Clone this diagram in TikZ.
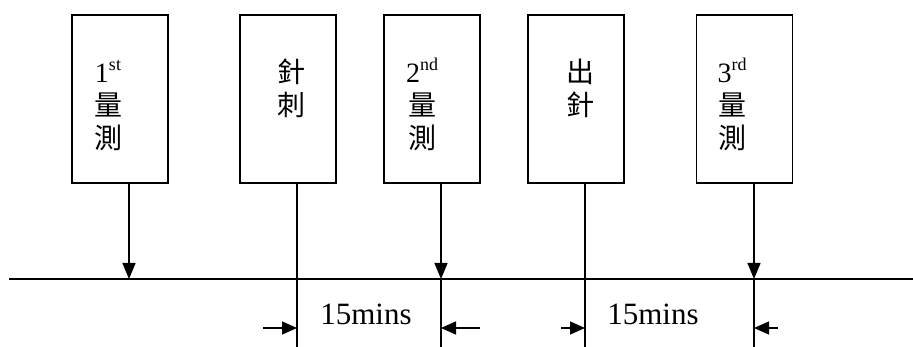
\documentclass[tikz,border=0pt]{standalone}
\usepackage{fontspec}
\setmainfont{Liberation Serif}
\newfontfamily\cjk{Noto Sans CJK TC}
\usetikzlibrary{arrows.meta}
\newcommand\supr[1]{\raisebox{12pt}{\fontsize{18}{18}\selectfont #1}}
\begin{document}
\begin{tikzpicture}[x=1pt,y=-1pt,
  box/.style={draw,line width=1.8pt,minimum width=96pt,minimum height=168pt,inner sep=0pt,outer sep=0pt},
  lbl/.style={anchor=base,inner sep=0pt,font=\fontsize{28}{33}\selectfont},
  cj/.style={anchor=base,inner sep=0pt,font=\fontsize{28}{33}\selectfont\cjk},
  dur/.style={anchor=base,inner sep=0pt,font=\fontsize{31}{36}\selectfont},
  conn/.style={line width=1.4pt},
  axis/.style={line width=1.8pt},
  tipv/.style={-{Triangle[length=16pt,width=13pt]}},
  tiph/.style={-{Triangle[length=15pt,width=13pt]}}]
\useasboundingbox (0,0) rectangle (913,347);
% boxes
\node[box] (b1) at (120,99) {};
\node[box] (b2) at (288,99) {};
\node[box] (b3) at (432,99) {};
\node[box] (b4) at (576,99) {};
\node[box] (b5) at (744.5,99) {};
% box texts
\node[lbl] (t1a) at (108,83) {1\supr{st}};
\node[cj]  (t1b) at (108,116) {量};
\node[cj]  (t1c) at (108,149) {測};
\node[cj]  (t2a) at (291,83) {針};
\node[cj]  (t2b) at (291,116) {刺};
\node[lbl] (t3a) at (422,83) {2\supr{nd}};
\node[cj]  (t3b) at (422,116) {量};
\node[cj]  (t3c) at (422,149) {測};
\node[cj]  (t4a) at (580.5,83) {出};
\node[cj]  (t4b) at (580.5,116) {針};
\node[lbl] (t5a) at (732,83) {3\supr{rd}};
\node[cj]  (t5b) at (732,116) {量};
\node[cj]  (t5c) at (732,149) {測};
% axis
\coordinate (axL) at (9,279);
\coordinate (axR) at (913,279);
\draw[axis] (axL) -- (axR);
% points on axis
\coordinate (p1) at (129,279);
\coordinate (p2) at (297,279);
\coordinate (p3) at (441,279);
\coordinate (p4) at (585,279);
\coordinate (p5) at (754,279);
% bottom ends
\coordinate (q2) at (297,347);
\coordinate (q3) at (441,347);
\coordinate (q4) at (585,347);
\coordinate (q5) at (754,347);
% vertical connectors
\draw[conn,tipv] (b1.south -| p1) -- (p1);
\draw[conn] (b2.south -| p2) -- (q2);
\draw[conn,tipv] (b3.south -| p3) -- (p3);
\draw[conn] (p3) -- (q3);
\draw[conn] (b4.south -| p4) -- (q4);
\draw[conn,tipv] (b5.south -| p5) -- (p5);
\draw[conn] (p5) -- (q5);
% duration arrows
\coordinate (d2s) at (263,328);
\coordinate (d2e) at (297,328);
\coordinate (d3s) at (480,328);
\coordinate (d3e) at (441,328);
\coordinate (d4s) at (561,328);
\coordinate (d4e) at (585,328);
\coordinate (d5s) at (778,328);
\coordinate (d5e) at (754,328);
\draw[conn,tiph] (d2s) -- (d2e);
\draw[conn,tiph] (d3s) -- (d3e);
\draw[conn,tiph] (d4s) -- (d4e);
\draw[conn,tiph] (d5s) -- (d5e);
\node[dur] (m1) at (366,325) {15mins};
\node[dur] (m2) at (653,325) {15mins};
\end{tikzpicture}
\end{document}
